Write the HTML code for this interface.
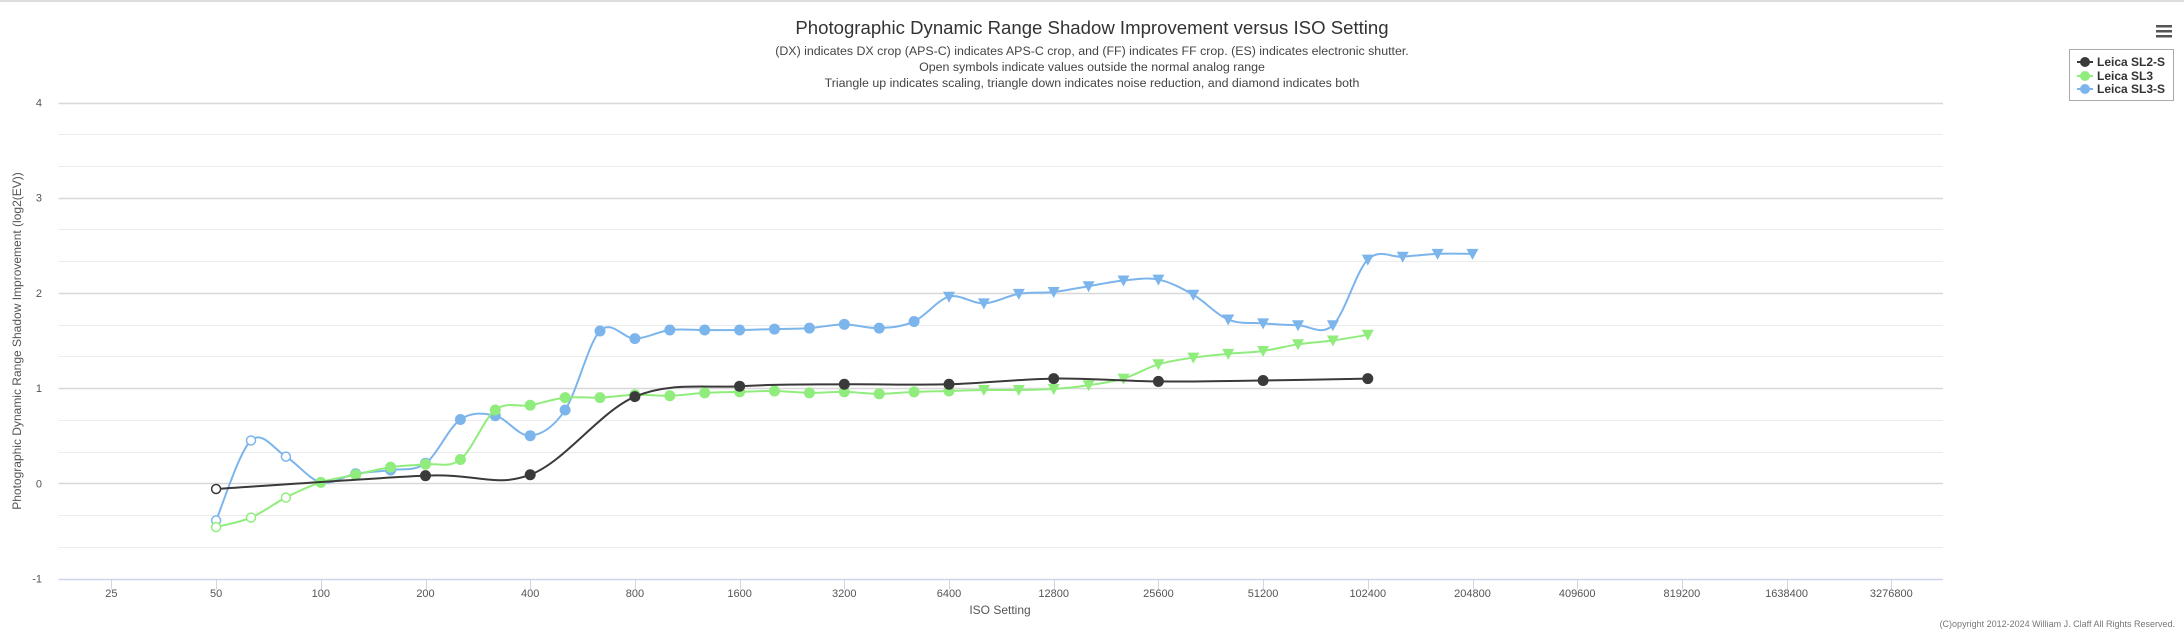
<!DOCTYPE html>
<html><head><meta charset="utf-8"><style>
html,body{margin:0;padding:0;background:#fff;}
svg{display:block;font-family:"Liberation Sans","DejaVu Sans",sans-serif;}
</style></head><body>
<svg id="c" width="2184" height="640" viewBox="0 0 2184 640" xmlns="http://www.w3.org/2000/svg">
<rect x="0" y="0" width="2184" height="640" fill="#fff"/>
<line x1="0" y1="1" x2="2184" y2="1" stroke="#ddd" stroke-width="2"/>
<text x="1092" y="34" text-anchor="middle" font-size="18.6" fill="#333">Photographic Dynamic Range Shadow Improvement versus ISO Setting</text>
<text x="1092" y="55" text-anchor="middle" font-size="12.4" fill="#444">(DX) indicates DX crop (APS-C) indicates APS-C crop, and (FF) indicates FF crop. (ES) indicates electronic shutter.</text>
<text x="1092" y="71" text-anchor="middle" font-size="12.4" fill="#444">Open symbols indicate values outside the normal analog range</text>
<text x="1092" y="87" text-anchor="middle" font-size="12.4" fill="#444">Triangle up indicates scaling, triangle down indicates noise reduction, and diamond indicates both</text>
<g fill="#555"><rect x="2156" y="25" width="16" height="2.5"/><rect x="2156" y="30" width="16" height="2.5"/><rect x="2156" y="35" width="16" height="2.5"/></g>
<rect x="2069.5" y="49.5" width="104" height="51" fill="#fff" stroke="#aaa"/>
<g id="grid"></g>
<g id="series"></g>
<g font-size="12" font-weight="bold" fill="#333">
<line x1="2077" y1="62" x2="2093" y2="62" stroke="#3a3a3a" stroke-width="2"/><circle cx="2085" cy="62" r="5" fill="#3a3a3a"/><text x="2097" y="66">Leica SL2-S</text>
<line x1="2077" y1="76" x2="2093" y2="76" stroke="#90ed7d" stroke-width="2"/><circle cx="2085" cy="76" r="5" fill="#90ed7d"/><text x="2097" y="80">Leica SL3</text>
<line x1="2077" y1="89" x2="2093" y2="89" stroke="#7cb5ec" stroke-width="2"/><circle cx="2085" cy="89" r="5" fill="#7cb5ec"/><text x="2097" y="93">Leica SL3-S</text>
</g>
<text x="1000" y="614" text-anchor="middle" font-size="12" fill="#555">ISO Setting</text>
<text transform="translate(21,341) rotate(-90)" text-anchor="middle" font-size="12" fill="#555">Photographic Dynamic Range Shadow Improvement (log2(EV))</text>
<text x="2175" y="627" text-anchor="end" font-size="9" fill="#777">(C)opyright 2012-2024 William J. Claff All Rights Reserved.</text>
</svg>
<script>
var NS="http://www.w3.org/2000/svg";
function el(t,a,p){var e=document.createElementNS(NS,t);for(var k in a)e.setAttribute(k,a[k]);(p||document.getElementById('c')).appendChild(e);return e;}
var L=58.5,R=1943;
function X(k){return 111.4+104.7*k;}
function Y(v){return 483.3-v*95.2;}
var g=document.getElementById('grid');
for(var i=0;i<=15;i++){var v=-1+i/3;var y=Math.round(Y(v))+0.5;var major=(i%3==0);
 el('line',{x1:L,y1:y,x2:R,y2:y,stroke:i==0?'#ccd6eb':(major?'#d8d8d8':'#ececec'),'stroke-width':major?1.5:1},g);}
for(var v=-1;v<=4;v++){var t=el('text',{x:42,y:Y(v)+4,'text-anchor':'end','font-size':11,fill:'#555'},g);t.textContent=v;}
var isos=[25,50,100,200,400,800,1600,3200,6400,12800,25600,51200,102400,204800,409600,819200,1638400,3276800];
var yb=Math.round(Y(-1))+0.5;
for(var k=0;k<isos.length;k++){var x=Math.round(X(k))+0.5;el('line',{x1:x,y1:yb,x2:x,y2:yb+10,stroke:'#ccd6eb'},g);
 var t=el('text',{x:X(k),y:597,'text-anchor':'middle','font-size':11,fill:'#555'},g);t.textContent=isos[k];}
function pts(start,step,vals,types){return vals.map(function(v,i){return [start+i*step,v,types(i)];});}
var black=[[1,-0.06,'o'],[3,0.08,'c'],[4,0.09,'c'],[5,0.91,'c'],[6,1.02,'c'],[7,1.04,'c'],[8,1.04,'c'],[9,1.10,'c'],[10,1.07,'c'],[11,1.08,'c'],[12,1.10,'c']];
var gv=[-0.46,-0.36,-0.15,0.01,0.09,0.17,0.20,0.25,0.77,0.82,0.90,0.90,0.93,0.92,0.95,0.96,0.97,0.95,0.96,0.94,0.96,0.97,0.98,0.98,0.99,1.03,1.10,1.25,1.32,1.36,1.39,1.46,1.50,1.56];
var green=pts(1,1/3,gv,function(i){return i<3?'o':(i<22?'c':'d');});
var bv=[-0.39,0.45,0.28,0.01,0.10,0.14,0.21,0.67,0.71,0.50,0.77,1.60,1.52,1.61,1.61,1.61,1.62,1.63,1.67,1.63,1.70,1.96,1.89,1.99,2.01,2.07,2.13,2.14,1.98,1.72,1.68,1.66,1.66,2.35,2.38,2.41,2.41];
var blue=pts(1,1/3,bv,function(i){return i<4?'o':(i<21?'c':'d');});
var sg=document.getElementById('series');
function spline(p){var P=p.map(function(a){return [X(a[0]),Y(a[1])];});var d='M'+P[0][0]+' '+P[0][1];
 for(var i=1;i<P.length;i++){var p0=P[i-2]||P[i-1],p1=P[i-1],p2=P[i],p3=P[i+1]||P[i];
  var s=1/6;var c1=[p1[0]+(p2[0]-p0[0])*s,p1[1]+(p2[1]-p0[1])*s],c2=[p2[0]-(p3[0]-p1[0])*s,p2[1]-(p3[1]-p1[1])*s];
  d+=' C'+c1[0]+' '+c1[1]+' '+c2[0]+' '+c2[1]+' '+p2[0]+' '+p2[1];}return d;}
function draw(p,col){el('path',{d:spline(p),fill:'none',stroke:col,'stroke-width':2},sg);
 p.forEach(function(a){var x=X(a[0]),y=Y(a[1]);
  if(a[2]=='o')el('circle',{cx:x,cy:y,r:4.5,fill:'#fff',stroke:col,'stroke-width':1.5},sg);
  else if(a[2]=='c')el('circle',{cx:x,cy:y,r:5.5,fill:col},sg);
  else el('path',{d:'M'+(x-6)+' '+(y-5)+' L'+(x+6)+' '+(y-5)+' L'+x+' '+(y+6)+' Z',fill:col},sg);});}
draw(blue,'#7cb5ec');draw(green,'#90ed7d');draw(black,'#3a3a3a');
</script>
</body></html>
